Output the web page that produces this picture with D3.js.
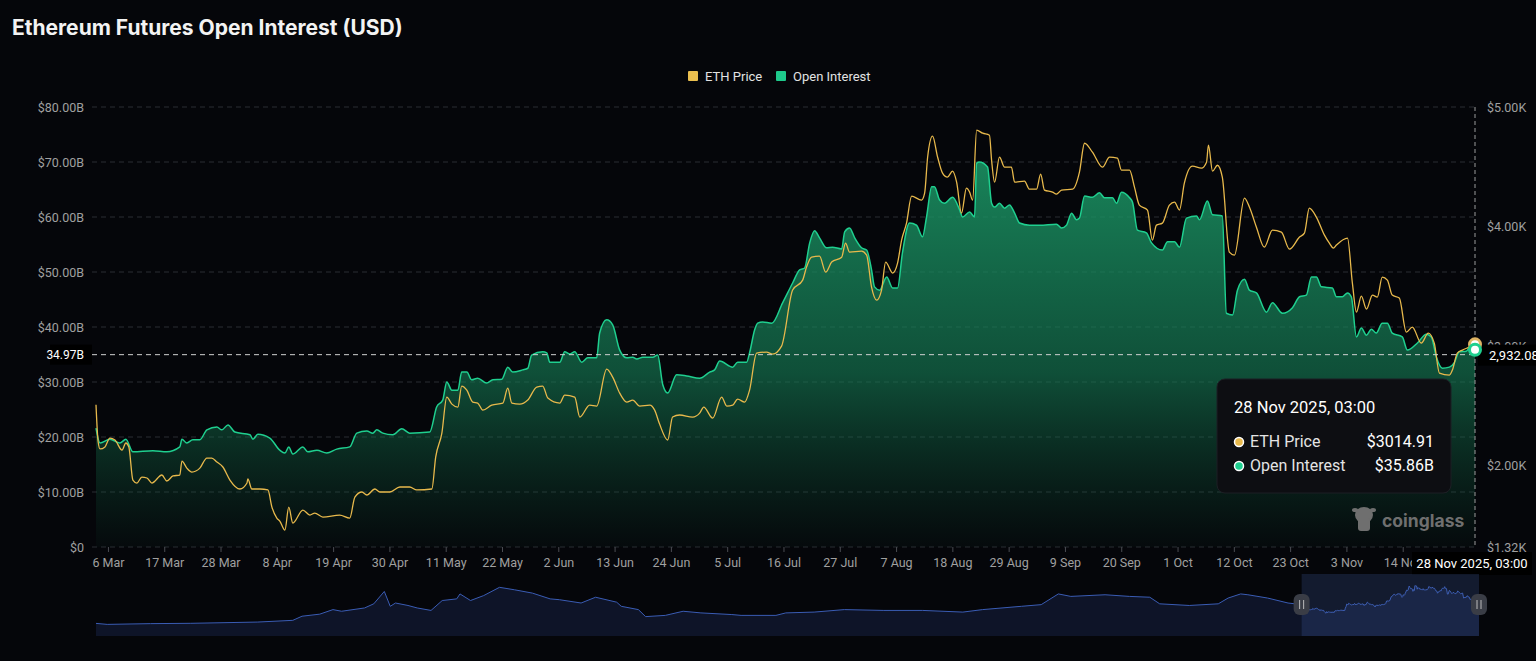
<!DOCTYPE html>
<html>
<head>
<meta charset="utf-8">
<script src="https://cdn.jsdelivr.net/npm/d3@7"></script>
<style>
  body { margin: 0; background: #05060a; }
  svg { display: block; }
  text { font-family: Roboto, "Noto Sans", sans-serif; }
</style>
</head>
<body>
<svg id="chart" width="1536" height="661"></svg>
<script>
// open interest, billions USD
var oiDates = ["2025-03-03T16","2025-03-04T11","2025-03-06T09","2025-03-08T08","2025-03-09T12","2025-03-10T21","2025-03-14T19","2025-03-17T12","2025-03-20T01","2025-03-20T11","2025-03-21T10","2025-03-22T14","2025-03-23T23","2025-03-25T08","2025-03-27T07","2025-03-28T06","2025-03-29T11","2025-03-30T19","2025-04-02T18","2025-04-03T08","2025-04-04T07","2025-04-06T15","2025-04-08T14","2025-04-09T14","2025-04-10T08","2025-04-11T03","2025-04-13T02","2025-04-14T01","2025-04-15T20","2025-04-17T18","2025-04-19T17","2025-04-22T06","2025-04-23T15","2025-04-25T14","2025-04-26T18","2025-04-27T13","2025-04-28T17","2025-04-30T16","2025-05-02T10","2025-05-03T23","2025-05-07T21","2025-05-09T06","2025-05-10T10","2025-05-11T05","2025-05-12T05","2025-05-13T09","2025-05-14T03","2025-05-15T03","2025-05-16T02","2025-05-17T06","2025-05-19T00","2025-05-20T05","2025-05-21T23","2025-05-23T03","2025-05-24T02","2025-05-26T01","2025-05-27T01","2025-05-27T19","2025-05-29T23","2025-05-30T18","2025-05-31T08","2025-06-02T07","2025-06-03T06","2025-06-04T06","2025-06-05T05","2025-06-06T14","2025-06-07T18","2025-06-09T12","2025-06-10T02","2025-06-11T11","2025-06-12T15","2025-06-14T00","2025-06-15T09","2025-06-16T13","2025-06-17T08","2025-06-18T12","2025-06-20T11","2025-06-21T10","2025-06-22T10","2025-06-23T09","2025-06-25T03","2025-06-27T02","2025-06-29T15","2025-07-01T14","2025-07-02T13","2025-07-03T13","2025-07-06T02","2025-07-07T01","2025-07-08T19","2025-07-09T09","2025-07-10T09","2025-07-10T23","2025-07-11T22","2025-07-13T17","2025-07-15T20","2025-07-17T19","2025-07-19T04","2025-07-20T03","2025-07-21T03","2025-07-22T02","2025-07-23T01","2025-07-24T10","2025-07-25T14","2025-07-27T09","2025-07-27T23","2025-07-28T22","2025-07-29T22","2025-07-31T06","2025-08-01T06","2025-08-02T05","2025-08-02T19","2025-08-03T19","2025-08-05T04","2025-08-06T08","2025-08-07T07","2025-08-08T06","2025-08-09T15","2025-08-11T00","2025-08-12T04","2025-08-12T23","2025-08-13T23","2025-08-14T12","2025-08-15T12","2025-08-16T11","2025-08-18T01","2025-08-19T10","2025-08-20T00","2025-08-21T09","2025-08-22T08","2025-08-22T18","2025-08-23T07","2025-08-24T21","2025-08-25T16","2025-08-26T06","2025-08-27T05","2025-08-28T05","2025-08-29T04","2025-08-30T04","2025-08-31T03","2025-09-02T02","2025-09-04T01","2025-09-07T08","2025-09-08T08","2025-09-09T07","2025-09-10T07","2025-09-11T06","2025-09-11T20","2025-09-12T20","2025-09-14T09","2025-09-15T18","2025-09-16T17","2025-09-18T07","2025-09-19T02","2025-09-20T01","2025-09-21T15","2025-09-22T05","2025-09-23T04","2025-09-24T22","2025-09-25T22","2025-09-28T01","2025-09-29T01","2025-09-30T10","2025-10-01T09","2025-10-02T18","2025-10-04T17","2025-10-05T07","2025-10-06T20","2025-10-07T20","2025-10-09T18","2025-10-10T13","2025-10-11T18","2025-10-12T17","2025-10-14T02","2025-10-15T01","2025-10-16T10","2025-10-18T09","2025-10-19T13","2025-10-21T12","2025-10-23T11","2025-10-24T20","2025-10-26T04","2025-10-27T04","2025-10-28T03","2025-10-29T03","2025-10-31T06","2025-11-01T01","2025-11-02T05","2025-11-03T05","2025-11-03T23","2025-11-04T23","2025-11-05T22","2025-11-06T22","2025-11-07T21","2025-11-08T20","2025-11-10T00","2025-11-11T00","2025-11-11T23","2025-11-13T22","2025-11-14T22","2025-11-16T21","2025-11-18T15","2025-11-19T14","2025-11-20T14","2025-11-21T18","2025-11-23T03","2025-11-24T02","2025-11-25T01","2025-11-26T10","2025-11-27T10","2025-11-28T03"];
var oiValues = [21.6,18.9,19.6,18.9,19.6,17.3,17.5,17.3,18.2,19.6,18.9,19.5,19.5,21.3,21.8,21.3,22.2,20.9,20.4,19.6,20.5,19.8,17.6,17.1,18.2,16.9,18.2,17.3,17.6,17.1,17.8,18.2,20.7,21.1,20.7,21.3,20.7,20.4,21.5,20.7,20.9,25.5,26.7,30.0,28.5,28.5,31.8,31.8,30.4,30.7,29.8,30.4,30.5,32.7,31.8,32.2,32.5,34.9,35.5,35.3,33.6,33.6,35.5,35.1,35.5,33.6,34.4,34.4,38.9,41.3,40.4,35.8,34.4,34.5,34.2,34.5,34.5,34.9,29.5,28.0,31.3,31.1,30.7,31.8,32.2,33.8,32.7,33.6,33.6,35.3,39.5,40.7,40.9,40.7,44.4,48.0,50.4,50.7,55.3,57.5,56.2,54.4,54.5,54.2,57.3,58.0,56.2,54.4,54.0,50.4,47.3,46.7,49.1,47.1,47.1,53.5,58.9,58.5,56.4,60.0,65.5,65.5,63.1,62.5,63.6,61.3,60.0,60.9,60.0,69.8,70.0,69.1,62.5,61.8,62.5,61.6,62.2,60.7,58.9,58.5,58.5,58.7,58.0,58.5,60.7,59.5,59.8,63.8,63.6,64.4,63.5,63.5,62.5,64.5,63.5,62.7,57.6,57.1,55.3,54.0,55.5,55.5,54.5,59.8,60.2,59.5,62.9,60.4,60.2,42.5,42.2,46.7,48.7,46.7,46.2,42.7,44.4,42.5,43.5,45.5,45.8,49.1,49.1,47.3,47.1,45.5,45.5,46.2,45.5,38.2,39.8,38.5,39.6,38.9,40.7,40.7,38.9,38.2,35.8,37.1,38.7,38.2,34.5,32.5,32.7,33.5,35.5,35.6,36.7,35.86];

// ETH price, USD
var ethDates = ["2025-03-03T16","2025-03-04T02","2025-03-04T11","2025-03-05T10","2025-03-06T09","2025-03-07T09","2025-03-08T18","2025-03-09T12","2025-03-10T02","2025-03-10T21","2025-03-11T16","2025-03-12T15","2025-03-13T15","2025-03-14T14","2025-03-16T13","2025-03-17T12","2025-03-18T17","2025-03-20T01","2025-03-20T11","2025-03-21T10","2025-03-22T10","2025-03-23T23","2025-03-25T08","2025-03-26T07","2025-03-27T07","2025-03-28T11","2025-03-29T20","2025-03-31T19","2025-04-02T04","2025-04-02T08","2025-04-03T03","2025-04-04T17","2025-04-06T06","2025-04-07T01","2025-04-08T00","2025-04-08T14","2025-04-09T14","2025-04-10T08","2025-04-11T03","2025-04-13T02","2025-04-14T11","2025-04-15T10","2025-04-17T00","2025-04-20T07","2025-04-22T06","2025-04-23T06","2025-04-24T15","2025-04-25T14","2025-04-27T04","2025-04-28T03","2025-04-30T02","2025-05-02T01","2025-05-03T23","2025-05-05T08","2025-05-08T07","2025-05-09T01","2025-05-10T06","2025-05-11T05","2025-05-12T05","2025-05-13T09","2025-05-14T03","2025-05-15T03","2025-05-16T07","2025-05-17T06","2025-05-18T06","2025-05-20T00","2025-05-22T04","2025-05-23T03","2025-05-23T22","2025-05-25T11","2025-05-27T01","2025-05-28T19","2025-05-29T23","2025-05-30T23","2025-06-02T07","2025-06-03T06","2025-06-05T05","2025-06-06T05","2025-06-08T03","2025-06-09T12","2025-06-11T11","2025-06-12T15","2025-06-14T00","2025-06-15T09","2025-06-16T13","2025-06-17T22","2025-06-19T21","2025-06-20T20","2025-06-21T19","2025-06-23T09","2025-06-24T08","2025-06-25T17","2025-06-28T06","2025-06-29T15","2025-06-30T10","2025-07-02T04","2025-07-03T22","2025-07-04T22","2025-07-06T02","2025-07-07T01","2025-07-08T10","2025-07-09T09","2025-07-10T18","2025-07-12T17","2025-07-13T21","2025-07-15T15","2025-07-17T19","2025-07-19T18","2025-07-20T12","2025-07-21T12","2025-07-23T01","2025-07-24T06","2025-07-25T10","2025-07-27T09","2025-07-28T03","2025-07-28T22","2025-07-31T06","2025-08-01T06","2025-08-02T05","2025-08-03T05","2025-08-04T04","2025-08-04T23","2025-08-06T08","2025-08-07T07","2025-08-08T02","2025-08-09T01","2025-08-10T01","2025-08-11T23","2025-08-12T14","2025-08-13T04","2025-08-14T03","2025-08-15T03","2025-08-16T02","2025-08-17T01","2025-08-18T01","2025-08-18T20","2025-08-19T19","2025-08-20T18","2025-08-21T09","2025-08-21T23","2025-08-22T18","2025-08-23T22","2025-08-25T06","2025-08-25T16","2025-08-26T06","2025-08-27T05","2025-08-28T05","2025-08-29T13","2025-08-30T04","2025-09-01T02","2025-09-02T02","2025-09-03T11","2025-09-04T06","2025-09-05T00","2025-09-06T14","2025-09-07T08","2025-09-08T08","2025-09-10T12","2025-09-11T20","2025-09-12T20","2025-09-14T09","2025-09-16T08","2025-09-17T17","2025-09-19T06","2025-09-20T01","2025-09-21T15","2025-09-22T14","2025-09-23T13","2025-09-25T03","2025-09-26T02","2025-09-26T21","2025-09-28T01","2025-09-29T10","2025-09-30T10","2025-10-01T09","2025-10-02T08","2025-10-03T22","2025-10-05T16","2025-10-06T16","2025-10-07T01","2025-10-07T20","2025-10-08T19","2025-10-09T18","2025-10-11T03","2025-10-12T03","2025-10-14T02","2025-10-15T01","2025-10-16T10","2025-10-17T23","2025-10-19T13","2025-10-21T07","2025-10-22T21","2025-10-24T20","2025-10-25T19","2025-10-26T18","2025-10-28T03","2025-10-29T17","2025-10-30T16","2025-10-31T11","2025-11-01T01","2025-11-03T05","2025-11-04T04","2025-11-04T23","2025-11-05T22","2025-11-06T22","2025-11-08T02","2025-11-09T01","2025-11-10T00","2025-11-11T00","2025-11-11T23","2025-11-13T08","2025-11-14T17","2025-11-15T21","2025-11-17T15","2025-11-19T00","2025-11-20T04","2025-11-21T04","2025-11-23T03","2025-11-23T17","2025-11-24T16","2025-11-25T16","2025-11-27T00","2025-11-28T03"];
var ethValues = [2510,2200,2140,2157,2231,2215,2131,2190,2157,1880,1855,1905,1897,1855,1922,1872,1914,1922,2039,1980,1947,1980,2064,2064,2031,1989,1880,1805,1855,1889,1805,1805,1797,1654,1562,1537,1462,1654,1520,1629,1587,1604,1570,1587,1562,1738,1780,1755,1805,1780,1780,1822,1822,1797,1805,2072,2273,2574,2515,2490,2666,2632,2532,2524,2465,2507,2524,2649,2524,2515,2549,2658,2666,2566,2524,2591,2574,2407,2507,2499,2808,2741,2607,2532,2549,2499,2507,2465,2348,2215,2407,2424,2407,2440,2490,2398,2574,2499,2507,2557,2532,2632,2942,2950,2933,3000,3469,3552,3661,3744,3752,3619,3703,3744,3861,3786,3794,3761,3494,3385,3469,3703,3611,3694,3887,4029,4254,4221,4280,4580,4756,4580,4447,4413,4463,4371,4112,4321,4288,4221,4806,4781,4764,4555,4371,4580,4497,4497,4371,4380,4313,4313,4438,4305,4288,4271,4305,4313,4455,4697,4622,4497,4580,4572,4472,4472,4330,4179,4138,3887,4012,4029,4179,4204,4138,4363,4505,4488,4538,4681,4463,4513,4413,3786,3761,4238,4163,3995,3828,3970,3953,3811,3912,3945,4154,4079,3928,3861,3820,3845,3903,3527,3285,3418,3310,3427,3410,3577,3552,3427,3402,3117,3159,3025,3109,3025,2775,2758,2800,2942,2967,2992,3014.91];

// slider shadow: ETH price before the zoomed window
var historyDates = ["2020-02-27","2020-03-15","2020-05-20","2020-07-20","2020-10-29","2020-12-22","2021-01-05","2021-02-01","2021-02-21","2021-03-06","2021-04-10","2021-04-24","2021-05-10","2021-05-19","2021-05-27","2021-06-15","2021-06-29","2021-07-20","2021-08-06","2021-08-28","2021-09-02","2021-09-18","2021-10-08","2021-11-01","2021-11-24","2021-12-21","2022-01-17","2022-01-31","2022-03-05","2022-03-27","2022-04-28","2022-05-05","2022-05-31","2022-06-11","2022-07-11","2022-08-07","2022-09-03","2022-10-20","2022-11-03","2022-12-26","2023-01-10","2023-02-22","2023-04-09","2023-06-08","2023-08-06","2023-10-06","2023-11-05","2024-01-03","2024-02-02","2024-02-28","2024-03-18","2024-05-09","2024-06-15","2024-07-16","2024-07-31","2024-09-14","2024-10-28","2024-11-12","2024-12-01","2024-12-12","2025-01-11","2025-02-11"];
var historyValues = [230,110,200,240,390,600,1100,1350,1900,1700,2100,2600,4100,2300,2700,2400,2100,1800,3000,3200,3800,3000,3600,4600,4300,3900,3200,3100,2700,3400,2800,2300,1900,1050,1200,1700,1500,1300,1200,1200,1500,1600,1900,1800,1800,1600,1900,2300,2500,3800,3500,3700,3500,3400,2600,2400,2600,3300,3800,3700,3300,2700];

var leftTicks = [0, 10, 20, 30, 40, 50, 60, 70, 80];
var rightTicks = [1320, 2000, 3000, 4000, 5000];
var xTickDates = ["2025-03-06","2025-03-17","2025-03-28","2025-04-08","2025-04-19","2025-04-30","2025-05-11","2025-05-22","2025-06-02","2025-06-13","2025-06-24","2025-07-05","2025-07-16","2025-07-27","2025-08-07","2025-08-18","2025-08-29","2025-09-09","2025-09-20","2025-10-01","2025-10-12","2025-10-23","2025-11-03","2025-11-14"];

// pointer / tooltip readout
var pointerDate = "2025-11-28T03";
var pointerLabel = "28 Nov 2025, 03:00";
var pointerOI = 34.97;
var pointerPriceText = "2,932.08";
var tipPrice = "$3014.91";
var tipOI = "$35.86B";

var parseH = d3.timeParse("%Y-%m-%dT%H");
var parseD = d3.timeParse("%Y-%m-%d");

var oi = oiDates.map(function(d, i) { return { t: parseH(d), v: oiValues[i] }; });
var eth = ethDates.map(function(d, i) { return { t: parseH(d), v: ethValues[i] }; });
var sliderData = historyDates.map(function(d, i) { return { t: parseD(d), v: historyValues[i] }; }).concat(eth);

var svg = d3.select('#chart');
var green = '#1fcf8f', yellow = '#e8b94c';
var plotLeft = 92, plotRight = 1475, plotTop = 107, plotBottom = 547;

var x = d3.scaleTime().domain([parseH("2025-03-03T16"), parseH(pointerDate)]).range([96, plotRight]);
var yL = d3.scaleLinear().domain([0, 80]).range([plotBottom, plotTop]);
var yR = d3.scaleLinear().domain([1320, 5000]).range([plotBottom, plotTop]);

svg.append('rect').attr('width', 1536).attr('height', 661).attr('fill', '#05060a');

// title
svg.append('text').attr('x', 12).attr('y', 35).text('Ethereum Futures Open Interest (USD)')
  .style('font-family', 'Inter, Roboto, sans-serif').attr('font-size', 21).attr('font-weight', 700).attr('fill', '#f3f3f3');

// legend
var legend = [{ name: 'ETH Price', c: '#eabf4f', x: 688 }, { name: 'Open Interest', c: '#1ec98b', x: 776 }];
legend.forEach(function(l) {
  svg.append('rect').attr('x', l.x).attr('y', 71).attr('width', 10).attr('height', 10).attr('rx', 1).attr('fill', l.c);
  svg.append('text').attr('x', l.x + 17).attr('y', 81).text(l.name).attr('font-size', 13).attr('fill', '#e2e2e2');
});

// grid
svg.append('g').selectAll('line').data(leftTicks).enter().append('line')
  .attr('x1', plotLeft).attr('x2', plotRight)
  .attr('y1', function(d) { return yL(d); }).attr('y2', function(d) { return yL(d); })
  .attr('stroke', '#2a2c33').attr('stroke-dasharray', '5,4');

// area gradient
var defs = svg.append('defs');
var grad = defs.append('linearGradient').attr('id', 'oiFill').attr('gradientUnits', 'userSpaceOnUse')
  .attr('x1', 0).attr('x2', 0).attr('y1', yL(d3.max(oiValues))).attr('y2', plotBottom);
grad.append('stop').attr('offset', '0%').attr('stop-color', '#1b9464').attr('stop-opacity', 0.88);
grad.append('stop').attr('offset', '55%').attr('stop-color', '#168057').attr('stop-opacity', 0.6);
grad.append('stop').attr('offset', '100%').attr('stop-color', '#0f5a3c').attr('stop-opacity', 0.05);

var area = d3.area().curve(d3.curveMonotoneX)
  .x(function(d) { return x(d.t); }).y0(plotBottom).y1(function(d) { return yL(d.v); });
var oiLine = d3.line().curve(d3.curveMonotoneX)
  .x(function(d) { return x(d.t); }).y(function(d) { return yL(d.v); });
var ethLine = d3.line().curve(d3.curveMonotoneX)
  .x(function(d) { return x(d.t); }).y(function(d) { return yR(d.v); });

svg.append('path').datum(oi).attr('d', area).attr('fill', 'url(#oiFill)');
svg.append('path').datum(oi).attr('d', oiLine).attr('fill', 'none').attr('stroke', green).attr('stroke-width', 1.5);
svg.append('path').datum(eth).attr('d', ethLine).attr('fill', 'none').attr('stroke', yellow).attr('stroke-width', 1.3);

// axes
var axL = svg.append('g').attr('transform', 'translate(' + plotLeft + ',0)')
  .call(d3.axisLeft(yL).tickValues(leftTicks).tickSize(0).tickPadding(8)
    .tickFormat(function(d) { return d === 0 ? '$0' : '$' + d.toFixed(2) + 'B'; }));
var axR = svg.append('g').attr('transform', 'translate(' + plotRight + ',0)')
  .call(d3.axisRight(yR).tickValues(rightTicks).tickSize(0).tickPadding(12)
    .tickFormat(function(d) { return '$' + (d / 1000).toFixed(2) + 'K'; }));
var axB = svg.append('g').attr('transform', 'translate(0,' + plotBottom + ')')
  .call(d3.axisBottom(x).tickValues(xTickDates.map(parseD)).tickSize(5).tickPadding(6)
    .tickFormat(d3.timeFormat('%-d %b')));
[axL, axR, axB].forEach(function(a) {
  a.select('.domain').remove();
  a.selectAll('text').attr('fill', '#a0a0a0').attr('font-size', 12.5).style('font-family', 'Roboto, sans-serif');
  a.selectAll('line').attr('stroke', '#4a4c52');
});

// crosshair
var py = yL(pointerOI), px = x(parseH(pointerDate));
svg.append('line').attr('x1', px).attr('x2', px).attr('y1', plotTop).attr('y2', plotBottom)
  .attr('stroke', '#9a9a9a').attr('stroke-dasharray', '4,3');
svg.append('line').attr('x1', plotLeft).attr('x2', px).attr('y1', py).attr('y2', py)
  .attr('stroke', '#d0d0d0').attr('stroke-dasharray', '5,4');

svg.append('rect').attr('x', 50).attr('y', py - 10).attr('width', 42).attr('height', 20).attr('fill', '#000');
svg.append('text').attr('x', 84).attr('y', py + 4).attr('text-anchor', 'end').text(pointerOI.toFixed(2) + 'B')
  .attr('font-size', 12).attr('fill', '#fff');
svg.append('rect').attr('x', 1478).attr('y', py - 10).attr('width', 60).attr('height', 21).attr('fill', '#000');
svg.append('text').attr('x', 1489).attr('y', py + 5).text(pointerPriceText).attr('font-size', 13).attr('fill', '#fff');
svg.append('rect').attr('x', 1412).attr('y', 552).attr('width', 120).attr('height', 23).attr('fill', '#000');
svg.append('text').attr('x', 1472).attr('y', 568).attr('text-anchor', 'middle').text(pointerLabel)
  .attr('font-size', 13).attr('fill', '#fff');

// end markers
var lastEth = eth[eth.length - 1], lastOi = oi[oi.length - 1];
svg.append('circle').attr('cx', x(lastEth.t)).attr('cy', yR(lastEth.v)).attr('r', 5.5)
  .attr('fill', '#fff').attr('stroke', '#e0b464').attr('stroke-width', 3);
svg.append('circle').attr('cx', x(lastOi.t)).attr('cy', yL(lastOi.v)).attr('r', 5.5)
  .attr('fill', '#fff').attr('stroke', green).attr('stroke-width', 3);

// watermark
var wm = svg.append('g').attr('fill', '#6f6f6f');
wm.append('ellipse').attr('cx', 1364).attr('cy', 515).attr('rx', 9).attr('ry', 8);
wm.append('rect').attr('x', 1358).attr('y', 518).attr('width', 12).attr('height', 13).attr('rx', 3);
wm.append('ellipse').attr('cx', 1355).attr('cy', 510).attr('rx', 3).attr('ry', 2);
wm.append('ellipse').attr('cx', 1373).attr('cy', 510).attr('rx', 3).attr('ry', 2);
wm.append('text').attr('x', 1382).attr('y', 527).text('coinglass').attr('font-size', 17.5).attr('font-weight', 700)
  .style('font-family', 'Inter, Roboto, sans-serif');

// tooltip
var tip = svg.append('g').attr('transform', 'translate(1217,379)');
tip.append('rect').attr('width', 234).attr('height', 114).attr('rx', 8).attr('fill', '#0d0e12').attr('stroke', '#1d1f25');
tip.append('text').attr('x', 17).attr('y', 34).text(pointerLabel).attr('font-size', 16.5).attr('fill', '#fff');
var rows = [{ name: 'ETH Price', c: yellow, v: tipPrice, y: 63 }, { name: 'Open Interest', c: green, v: tipOI, y: 87 }];
rows.forEach(function(r) {
  tip.append('circle').attr('cx', 22).attr('cy', r.y).attr('r', 4.5).attr('fill', r.c).attr('stroke', '#fff').attr('stroke-width', 1.5);
  tip.append('text').attr('x', 33).attr('y', r.y + 5).text(r.name).attr('font-size', 16).attr('fill', '#e4e4e4');
  tip.append('text').attr('x', 217).attr('y', r.y + 5).attr('text-anchor', 'end').text(r.v).attr('font-size', 16).attr('fill', '#fff');
});

// slider (data zoom)
var sTop = 574, sBottom = 636, sLeft = 96, sRight = 1479;
var sx = d3.scaleTime().domain([sliderData[0].t, lastEth.t]).range([sLeft, sRight]);
var ext = d3.extent(sliderData, function(d) { return d.v; });
var pad = (ext[1] - ext[0]) * 0.3;
var sy = d3.scaleLinear().domain([ext[0] - pad, ext[1] + pad]).range([sBottom, sTop]);

svg.append('path').datum(sliderData)
  .attr('d', d3.area().x(function(d) { return sx(d.t); }).y0(sBottom).y1(function(d) { return sy(d.v); }))
  .attr('fill', '#0e1428');
svg.append('path').datum(sliderData)
  .attr('d', d3.line().x(function(d) { return sx(d.t); }).y(function(d) { return sy(d.v); }))
  .attr('fill', 'none').attr('stroke', '#3a5cb4').attr('stroke-width', 1);

var s0 = sx(eth[0].t), s1 = sx(lastEth.t);
svg.append('rect').attr('x', s0).attr('y', sTop).attr('width', s1 - s0).attr('height', sBottom - sTop)
  .attr('fill', '#4a68b8').attr('fill-opacity', 0.22);
[s0, s1].forEach(function(hx) {
  svg.append('rect').attr('x', hx - 8).attr('y', 594).attr('width', 16).attr('height', 21).attr('rx', 6).attr('fill', '#3a3d46');
  svg.append('line').attr('x1', hx - 2).attr('x2', hx - 2).attr('y1', 600).attr('y2', 609).attr('stroke', '#bbb');
  svg.append('line').attr('x1', hx + 2).attr('x2', hx + 2).attr('y1', 600).attr('y2', 609).attr('stroke', '#bbb');
});
</script>
</body>
</html>
